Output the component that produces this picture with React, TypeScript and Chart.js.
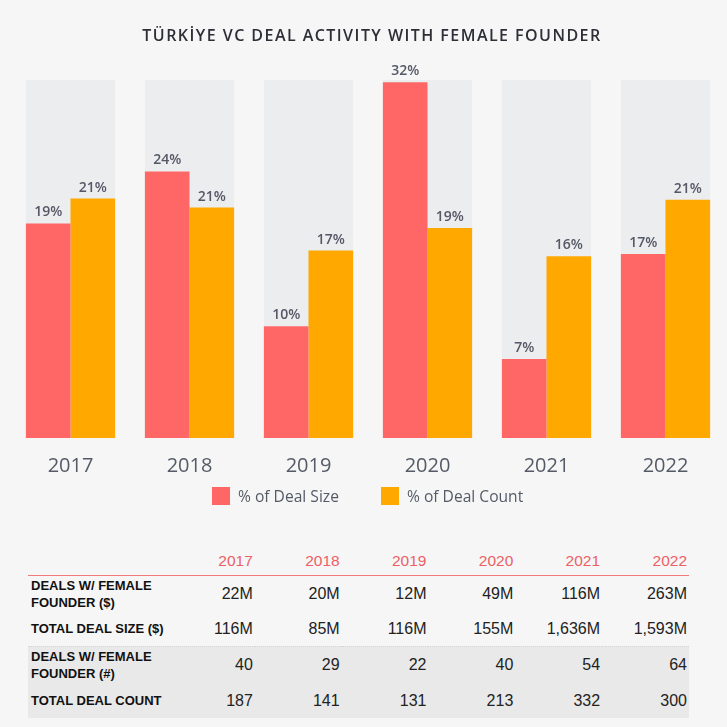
import React, { useEffect, useRef } from "react";
import { Chart, registerables } from "chart.js";

Chart.register(...registerables);

// ---------- data ----------
const years = ["2017", "2018", "2019", "2020", "2021", "2022"];
const seriesNames = ["% of Deal Size", "% of Deal Count"];
const dealSizePct = [19.0, 23.6, 9.9, 31.5, 7.0, 16.3];
const dealCountPct = [21.2, 20.4, 16.6, 18.6, 16.1, 21.1];
const dealSizeLabels = ["19%", "24%", "10%", "32%", "7%", "17%"];
const dealCountLabels = ["21%", "21%", "17%", "19%", "16%", "21%"];
const backdropPct = [31.7, 31.7, 31.7, 31.7, 31.7, 31.7];
const yMax = 31.7;

const rowLabels = [
  ["DEALS W/ FEMALE", "FOUNDER ($)"],
  ["TOTAL DEAL SIZE ($)"],
  ["DEALS W/ FEMALE", "FOUNDER (#)"],
  ["TOTAL DEAL COUNT"],
];
const femaleDealSize = ["22M", "20M", "12M", "49M", "116M", "263M"];
const totalDealSize = ["116M", "85M", "116M", "155M", "1,636M", "1,593M"];
const femaleDealCount = ["40", "29", "22", "40", "54", "64"];
const totalDealCount = ["187", "141", "131", "213", "332", "300"];
const tableRows = [femaleDealSize, totalDealSize, femaleDealCount, totalDealCount];

// ---------- style ----------
const RED = "#ff6767";
const ORANGE = "#ffa800";
const GREY_BAR = "#ebedef";
const PAGE_BG = "#f6f6f6";
const LABEL_COLOR = "#555866";

const barLabelPlugin = {
  id: "barLabels",
  afterDatasetsDraw(chart: any) {
    const ctx = chart.ctx;
    const labelSets = [dealSizeLabels, dealCountLabels];
    ctx.save();
    ctx.font = "600 14px 'Open Sans'";
    ctx.fillStyle = LABEL_COLOR;
    ctx.textAlign = "center";
    ctx.textBaseline = "bottom";
    for (let d = 0; d < 2; d++) {
      const meta = chart.getDatasetMeta(d);
      meta.data.forEach((el: any, i: number) => {
        ctx.fillText(labelSets[d][i], el.x, el.y - 4);
      });
    }
    ctx.restore();
  },
};

function BarChart() {
  const ref = useRef<HTMLCanvasElement>(null);
  useEffect(() => {
    if (!ref.current) return;
    const chart = new Chart(ref.current, {
      type: "bar",
      data: {
        labels: years,
        datasets: [
          {
            label: seriesNames[0],
            data: dealSizePct,
            backgroundColor: RED,
            borderWidth: 0,
            order: 1,
            barPercentage: 1,
            categoryPercentage: 0.75,
          },
          {
            label: seriesNames[1],
            data: dealCountPct,
            backgroundColor: ORANGE,
            borderWidth: 0,
            order: 1,
            barPercentage: 1,
            categoryPercentage: 0.75,
          },
          {
            label: "backdrop",
            data: backdropPct,
            backgroundColor: GREY_BAR,
            borderWidth: 0,
            grouped: false,
            order: 5,
            barPercentage: 1,
            categoryPercentage: 0.75,
          },
        ],
      },
      options: {
        responsive: false,
        animation: false,
        events: [],
        layout: { padding: { top: 80, left: 11, right: 2, bottom: 0 } },
        plugins: {
          legend: { display: false },
          tooltip: { enabled: false },
          title: { display: false },
        },
        scales: {
          x: {
            type: "category",
            offset: true,
            grid: { display: false, drawTicks: false, tickLength: 0 },
            border: { display: false },
            ticks: {
              color: "#555b66",
              font: { family: "'Open Sans'", size: 20 },
              padding: 16,
            },
          },
          y: {
            display: false,
            min: 0,
            max: yMax,
          },
        },
      },
      plugins: [barLabelPlugin],
    } as any);
    return () => chart.destroy();
  }, []);
  return (
    <canvas
      ref={ref}
      width={727}
      height={494}
      style={{ position: "absolute", left: 0, top: 0, display: "block" }}
    />
  );
}

export default function App() {
  const colW = 86.8;
  const cellFont = "Arial, 'Liberation Sans', sans-serif";
  const rowHeights = [37, 34, 37, 35];
  return (
    <div
      style={{
        position: "fixed",
        left: 0,
        top: 0,
        width: 727,
        height: 727,
        background: PAGE_BG,
        overflow: "hidden",
      }}
    >
      <BarChart />
      <div
        style={{
          position: "absolute",
          top: 24,
          left: 0,
          width: 727,
          boxSizing: "border-box",
          paddingLeft: 17,
          textAlign: "center",
          fontFamily: "'Open Sans', sans-serif",
          fontWeight: 600,
          fontSize: 16,
          lineHeight: "22px",
          letterSpacing: 1.45,
          color: "#2d2e36",
          whiteSpace: "nowrap",
        }}
      >
        TÜRKİYE VC DEAL ACTIVITY WITH FEMALE FOUNDER
      </div>
      {/* legend */}
      {[
        { name: seriesNames[0], color: RED, left: 212 },
        { name: seriesNames[1], color: ORANGE, left: 381 },
      ].map((it) => (
        <div
          key={it.name}
          style={{
            position: "absolute",
            top: 487,
            left: it.left,
            display: "flex",
            alignItems: "center",
            height: 18,
          }}
        >
          <div style={{ width: 18, height: 18, background: it.color }} />
          <span
            style={{
              marginLeft: 8,
              fontFamily: "'Open Sans', sans-serif",
              fontSize: 15.6,
              color: "#555b66",
              whiteSpace: "nowrap",
            }}
          >
            {it.name}
          </span>
        </div>
      ))}
      {/* table */}
      <table
        style={{
          position: "absolute",
          left: 28,
          top: 548,
          width: 661,
          borderCollapse: "collapse",
          tableLayout: "fixed",
          fontFamily: cellFont,
          color: "#222",
        }}
      >
        <colgroup>
          <col style={{ width: 140 }} />
          {years.map((y) => (
            <col key={y} style={{ width: colW }} />
          ))}
        </colgroup>
        <thead>
          <tr style={{ height: 27 }}>
            <th style={{ borderBottom: "1.5px solid #f07a7a", padding: 0 }} />
            {years.map((y) => (
              <th
                key={y}
                style={{
                  textAlign: "right",
                  padding: "0 2px 0 0",
                  fontWeight: 400,
                  fontSize: 15.5,
                  color: "#ec5f66",
                  borderBottom: "1.5px solid #f07a7a",
                  verticalAlign: "middle",
                }}
              >
                {y}
              </th>
            ))}
          </tr>
        </thead>
        <tbody>
          {tableRows.map((row, r) => (
            <tr
              key={r}
              style={{
                height: rowHeights[r],
                background: r >= 2 ? "#e9e9e9" : "transparent",
                borderTop: r === 2 ? "1px dotted #d4d4d4" : undefined,
              }}
            >
              <td
                style={{
                  padding: "0 0 0 3px",
                  fontWeight: 700,
                  fontSize: 13,
                  lineHeight: "17px",
                  color: "#111",
                  verticalAlign: "middle",
                  whiteSpace: "nowrap",
                }}
              >
                {rowLabels[r].map((l, k) => (
                  <div key={k}>{l}</div>
                ))}
              </td>
              {row.map((v, c) => (
                <td
                  key={c}
                  style={{
                    textAlign: "right",
                    padding: "0 2px 0 0",
                    fontSize: 16,
                    verticalAlign: "middle",
                    color: "#222",
                  }}
                >
                  {v}
                </td>
              ))}
            </tr>
          ))}
        </tbody>
      </table>
    </div>
  );
}
